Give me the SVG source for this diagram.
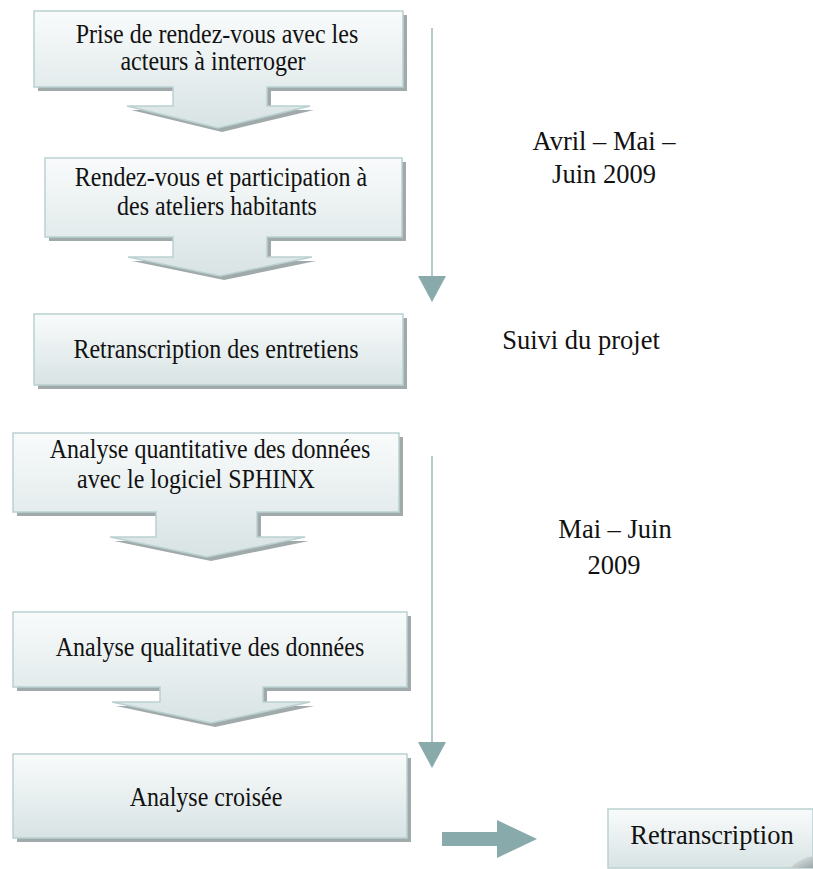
<svg xmlns="http://www.w3.org/2000/svg" width="813" height="869" viewBox="0 0 813 869">
<defs>
<linearGradient id="g" x1="0" y1="0" x2="0" y2="1">
<stop offset="0" stop-color="#f9fbfb"/>
<stop offset="1" stop-color="#d8e3e4"/>
</linearGradient>
<linearGradient id="curl" x1="0" y1="0" x2="1" y2="1">
<stop offset="0" stop-color="#f2f5f5"/>
<stop offset="1" stop-color="#9aa6a6"/>
</linearGradient>
</defs>
<style>
.sh{fill:#a1aaaa}
.bx{fill:url(#g);stroke:#bad1d2;stroke-width:1.5}
.t{font-family:"Liberation Serif","Times New Roman",serif;font-size:24px;fill:#111;text-anchor:middle}
.lb{font-family:"Liberation Serif","Times New Roman",serif;font-size:26.5px;fill:#111;text-anchor:middle}
.ln{stroke:#9bbaba;stroke-width:1.5;fill:none}
.hd{fill:#89aaaa}
</style>
<rect width="813" height="869" fill="#fff"/>

<g id="n1">
<path class="sh" transform="translate(4,4)" d="M34,11 H403 V87 H267 V106 H310 L218,128 L127,106 H173 V87 H34 Z"/>
<path class="bx" d="M34,11 H403 V87 H267 V106 H310 L218,128 L127,106 H173 V87 H34 Z"/>
<text class="t" transform="translate(217,43) scale(1,1.1)">Prise de rendez-vous avec les</text>
<text class="t" transform="translate(213,70) scale(1,1.1)">acteurs à interroger</text>
</g>

<g id="n2">
<path class="sh" transform="translate(4,4)" d="M45,158 H402 V237 H267 V257 H312 L220,276 L128,257 H173 V237 H45 Z"/>
<path class="bx" d="M45,158 H402 V237 H267 V257 H312 L220,276 L128,257 H173 V237 H45 Z"/>
<text class="t" transform="translate(221,186) scale(1,1.1)">Rendez-vous et participation à</text>
<text class="t" transform="translate(217,215) scale(1,1.1)">des ateliers habitants</text>
</g>

<g id="n3">
<rect class="sh" x="38" y="318" width="369" height="71"/>
<rect class="bx" x="34" y="314" width="369" height="71"/>
<text class="t" transform="translate(216,358) scale(1,1.1)">Retranscription des entretiens</text>
</g>

<g id="n4">
<path class="sh" transform="translate(4,4)" d="M13,433 H399 V512 H257 V537 H305 L207,557 L110,537 H156 V512 H13 Z"/>
<path class="bx" d="M13,433 H399 V512 H257 V537 H305 L207,557 L110,537 H156 V512 H13 Z"/>
<text class="t" transform="translate(210,458) scale(1,1.1)">Analyse quantitative des données</text>
<text class="t" transform="translate(196,488) scale(1,1.1)">avec le logiciel SPHINX</text>
</g>

<g id="n5">
<path class="sh" transform="translate(4,4)" d="M13,612 H407 V687 H263 V702 H310 L211,723 L112,702 H160 V687 H13 Z"/>
<path class="bx" d="M13,612 H407 V687 H263 V702 H310 L211,723 L112,702 H160 V687 H13 Z"/>
<text class="t" transform="translate(210,656) scale(1,1.1)">Analyse qualitative des données</text>
</g>

<g id="n6">
<rect class="sh" x="17" y="758" width="394" height="84"/>
<rect class="bx" x="13" y="754" width="394" height="84"/>
<text class="t" transform="translate(206,806) scale(1,1.1)">Analyse croisée</text>
</g>

<g id="n7">
<path class="bx" d="M608,809 H813 V868 H608 Z"/>
<path d="M790,868 Q800,858 813,856 L813,868 Z" fill="url(#curl)"/>
<text class="lb" x="712" y="844">Retranscription</text>
</g>

<g id="labels">
<text class="lb" x="604" y="150">Avril – Mai –</text>
<text class="lb" x="604" y="183">Juin 2009</text>
<text class="lb" x="581" y="349">Suivi du projet</text>
<text class="lb" x="615" y="538">Mai – Juin</text>
<text class="lb" x="614" y="574">2009</text>
</g>

<g id="connectors">
<line class="ln" x1="432" y1="28" x2="432" y2="278"/>
<path class="hd" d="M418,276 H446 L432,302 Z"/>
<line class="ln" x1="432" y1="456" x2="432" y2="744"/>
<path class="hd" d="M418,742 H446 L432,768 Z"/>
<path class="hd" d="M442,832 H497 V820 L537,839 L497,858 V846 H442 Z"/>
</g>
</svg>
